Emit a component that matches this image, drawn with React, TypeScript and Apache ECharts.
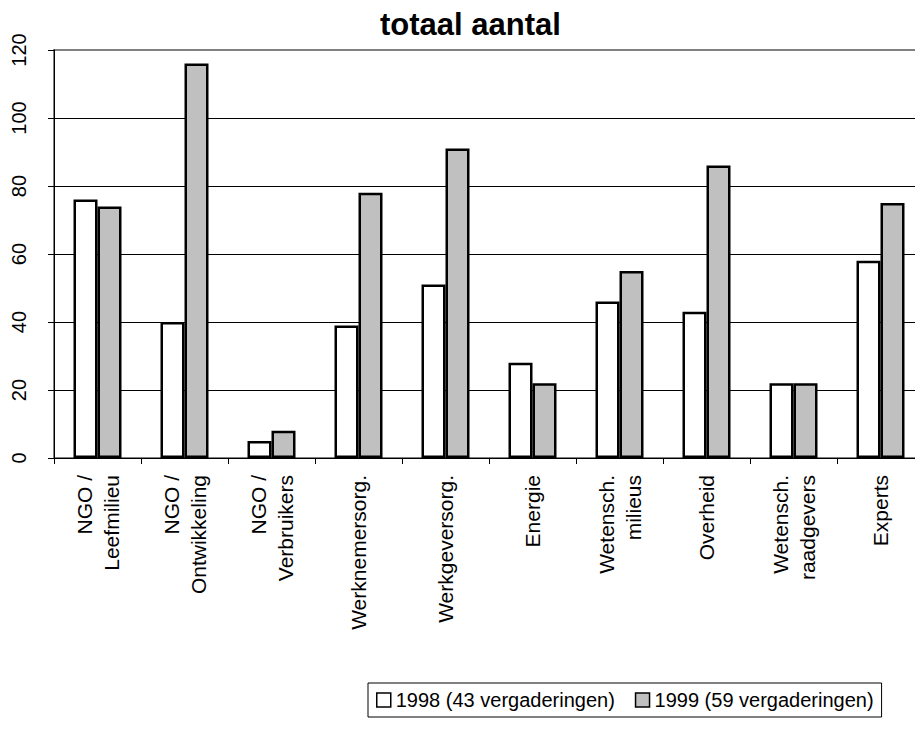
import React, { useEffect, useRef } from "react";
import * as echarts from "echarts";

const categories = [
  "NGO /\nLeefmilieu",
  "NGO /\nOntwikkeling",
  "NGO /\nVerbruikers",
  "Werknemersorg.",
  "Werkgeversorg.",
  "Energie",
  "Wetensch.\nmilieus",
  "Overheid",
  "Wetensch.\nraadgevers",
  "Experts",
];
const values1998 = [76, 40, 5, 39, 51, 28, 46, 43, 22, 58];
const values1999 = [74, 116, 8, 78, 91, 22, 55, 86, 22, 75];
const seriesNames = ["1998 (43 vergaderingen)", "1999 (59 vergaderingen)"];
const titleText = "totaal aantal";

const FONT = "'Liberation Sans', Arial, sans-serif";

export default function App() {
  const ref = useRef<HTMLDivElement>(null);
  useEffect(() => {
    if (!ref.current) return;
    const chart = echarts.init(ref.current, undefined, { renderer: "svg" });
    chart.setOption({
      animation: false,
      backgroundColor: "#ffffff",
      title: {
        text: titleText,
        left: 380,
        top: 9,
        padding: 0,
        textStyle: { fontFamily: FONT, fontSize: 31, fontWeight: "bold", color: "#000" },
      },
      legend: {
        left: 368,
        top: 683,
        orient: "horizontal",
        padding: [7, 8],
        itemGap: 20,
        itemWidth: 14,
        itemHeight: 14,
        icon: "rect",
        borderColor: "#000",
        borderWidth: 1,
        borderRadius: 0,
        textStyle: { fontFamily: FONT, fontSize: 20, color: "#000" },
        itemStyle: { borderColor: "#000", borderWidth: 1.5 },
        data: seriesNames,
      },
      grid: {
        left: 54,
        right: 0,
        top: 50,
        bottom: 290,
        show: true,
        borderColor: "#808080",
        borderWidth: 2,
        backgroundColor: "transparent",
      },
      xAxis: {
        type: "category",
        data: categories,
        boundaryGap: true,
        axisLine: { lineStyle: { color: "#000", width: 1 } },
        axisTick: { show: true, alignWithLabel: false, length: 6, lineStyle: { color: "#000" } },
        axisLabel: {
          interval: 0,
          rotate: 90,
          margin: 17,
          fontFamily: FONT,
          fontSize: 21,
          lineHeight: 27,
          color: "#000",
        },
        splitLine: { show: false },
      },
      yAxis: {
        type: "value",
        min: 0,
        max: 120,
        interval: 20,
        axisLine: { show: true, lineStyle: { color: "#000", width: 1 } },
        axisTick: { show: true, length: 6, lineStyle: { color: "#000" } },
        axisLabel: {
          rotate: 90,
          margin: 25,
          fontFamily: FONT,
          fontSize: 20,
          color: "#000",
        },
        splitLine: {
          show: true,
          lineStyle: {
            color: ["#000", "#000", "#000", "#000", "#000", "#000", "#808080"],
            width: 1,
          },
        },
      },
      series: [
        {
          name: seriesNames[0],
          type: "bar",
          data: values1998,
          barWidth: 24,
          barGap: "0%",
          itemStyle: { color: "#ffffff", borderColor: "#000", borderWidth: 2.5 },
        },
        {
          name: seriesNames[1],
          type: "bar",
          data: values1999,
          barWidth: 24,
          barGap: "0%",
          itemStyle: { color: "#c0c0c0", borderColor: "#000", borderWidth: 2.5 },
        },
      ],
    });
    return () => chart.dispose();
  }, []);
  return (
    <div
      style={{
        position: "fixed",
        left: 0,
        top: 0,
        width: 915,
        height: 748,
        overflow: "hidden",
        background: "#fff",
      }}
    >
      <div ref={ref} style={{ width: 924, height: 748 }} />
    </div>
  );
}
